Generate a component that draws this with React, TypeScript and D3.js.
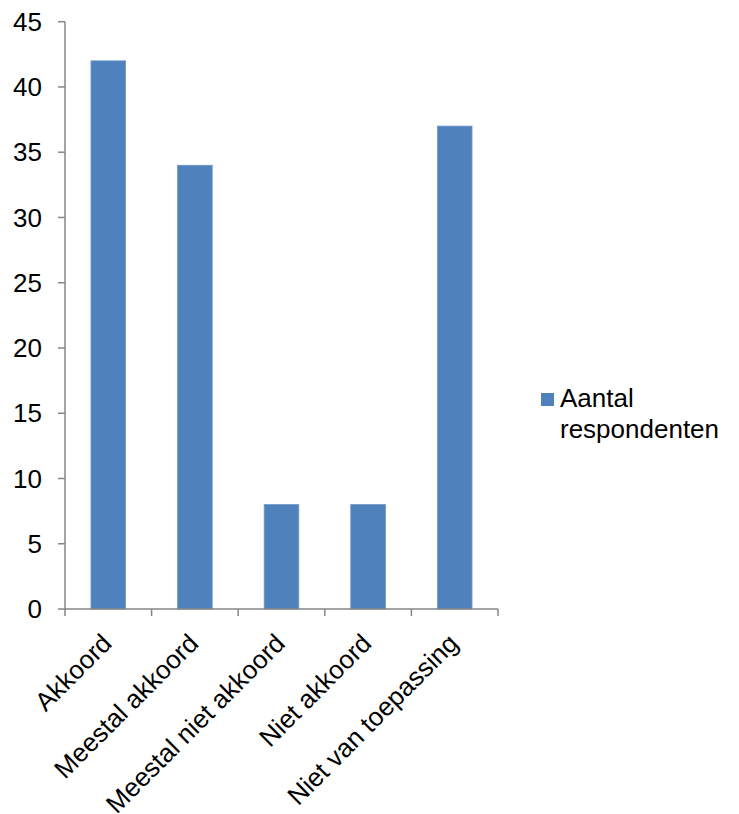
import React from "react";
import * as d3 from "d3";

const categories = ["Akkoord", "Meestal akkoord", "Meestal niet akkoord", "Niet akkoord", "Niet van toepassing"];
const values = [42, 34, 8, 8, 37];
const yTicks = [0, 5, 10, 15, 20, 25, 30, 35, 40, 45];
const seriesName = ["Aantal", "respondenten"];

export default function App() {
  const W = 739, H = 814;
  const left = 65, right = 498, top = 21.7, bottom = 609;
  const x = d3.scaleBand<string>().domain(categories).range([left, right]).paddingInner(0.6).paddingOuter(0.3);
  const y = d3.scaleLinear().domain([0, 45]).range([bottom, top]);
  const edges = d3.range(categories.length + 1).map((i) => left + (i * (right - left)) / categories.length);
  const font = "'Liberation Sans', Arial, sans-serif";
  const axisColor = "#868686";
  const fs = 26;
  return (
    <svg width={W} height={H} style={{ position: "absolute", left: 0, top: 0 }} fontFamily={font}>
      {values.map((v, i) => (
        <rect key={i} x={x(categories[i])} y={y(v)} width={x.bandwidth()} height={bottom - y(v)} fill="#4F81BD" stroke="#6F97C8" strokeWidth={0.8} />
      ))}
      <line x1={left} x2={left} y1={top} y2={bottom} stroke={axisColor} strokeWidth={1.5} />
      {yTicks.map((t) => (
        <g key={t}>
          <line x1={left - 7} x2={left} y1={y(t)} y2={y(t)} stroke={axisColor} strokeWidth={1.5} />
          <text x={42} y={y(t)} dy="0.35em" textAnchor="end" fontSize={fs} fill="#000">{t}</text>
        </g>
      ))}
      <line x1={left} x2={right} y1={bottom} y2={bottom} stroke={axisColor} strokeWidth={1.5} />
      {edges.map((e, i) => (
        <line key={i} x1={e} x2={e} y1={bottom} y2={bottom + 7} stroke={axisColor} strokeWidth={1.5} />
      ))}
      {categories.map((c) => {
        const cx = (x(c) as number) + x.bandwidth() / 2 + 5;
        const cy = bottom + 36;
        return (
          <text key={c} x={cx} y={cy} textAnchor="end" fontSize={fs} fill="#000" transform={`rotate(-45 ${cx} ${cy})`}>{c}</text>
        );
      })}
      <rect x={541} y={393} width={13} height={13} fill="#4F81BD" />
      <text x={560} y={407} fontSize={fs} fill="#000">{seriesName[0]}</text>
      <text x={560} y={438} fontSize={fs} fill="#000">{seriesName[1]}</text>
    </svg>
  );
}
